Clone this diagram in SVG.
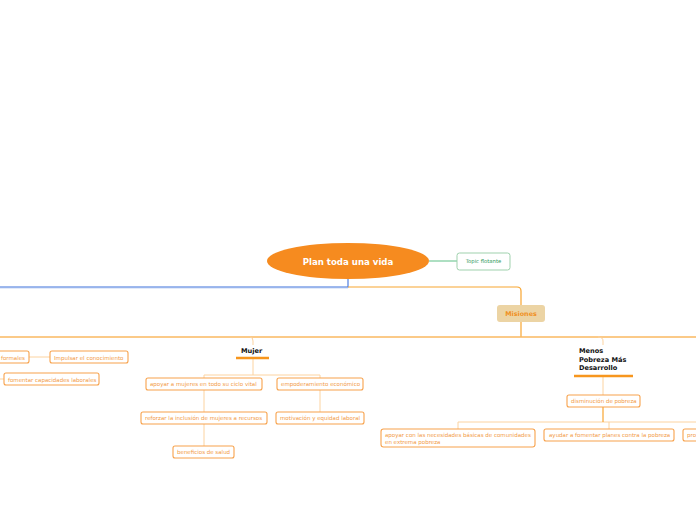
<svg xmlns="http://www.w3.org/2000/svg" width="696" height="520" viewBox="0 0 696 520">
<style>
.box{fill:#fff;stroke:#f7a24c;stroke-width:1.1}
.t{font-family:"DejaVu Sans",Verdana,sans-serif;font-size:5.5px;fill:#f29a45}
.lt{fill:none;stroke:#fcd3a0;stroke-width:1}
.mn{fill:none;stroke:#f8a530;stroke-width:1.2}
.hd{font-family:"DejaVu Sans",Verdana,sans-serif;font-size:6.6px;font-weight:bold;fill:#111}
</style>
<rect width="696" height="520" fill="#fff"/>
<g id="connectors">
<line x1="429" y1="261" x2="457" y2="261" stroke="#5cbf85" stroke-width="1"/>
<line x1="0" y1="288.2" x2="348" y2="288.2" stroke="#c4d4f5" stroke-width="0.7"/>
<path d="M348 279 V287 H0" fill="none" stroke="#3f72dc" stroke-width="1.1"/>
<path d="M348 287 H517 Q521 287 521 291 V305" class="mn"/>
<path d="M521 322 V337" class="mn"/>
<line x1="0" y1="337" x2="696" y2="337" stroke="#fab860" stroke-width="1.4"/>
<path d="M250 337 Q253 337 253 341 V345" class="lt"/>
<path d="M598 337 Q603 337 603 341 V345" class="lt"/>
<path d="M253 359 V375 M204 378 V375 H320 V378" class="lt"/>
<path d="M204 390 V412 M204 424 V446 M320 390 V412" class="lt"/>
<path d="M29 357 H50 M0 379 H4" class="lt"/>
<path d="M603 377 V395" class="lt"/>
<path d="M458 429 V422 H696 M609 422 V429" class="lt"/>
<path d="M603 407 V422" class="mn" stroke-width="1"/>
</g>
<g id="root">
<ellipse cx="348" cy="261" rx="81" ry="18" fill="#f68b1f"/>
<text x="348" y="264.5" text-anchor="middle" font-family="DejaVu Sans,Verdana,sans-serif" font-size="8.6" font-weight="bold" fill="#fff">Plan toda una vida</text>
</g>
<g id="topic-flotante">
<rect x="457" y="253" width="53" height="17" rx="2.5" fill="#fff" stroke="#9fd1ad" stroke-width="1"/>
<text x="483.5" y="263.3" text-anchor="middle" font-family="DejaVu Sans,Verdana,sans-serif" font-size="5.3" fill="#2f9a5e">Topic flotante</text>
</g>
<g id="misiones">
<rect x="497" y="305" width="48" height="17" rx="3" fill="#ecd4a4"/>
<text x="521" y="316" text-anchor="middle" font-family="DejaVu Sans,Verdana,sans-serif" font-size="6.4" font-weight="bold" fill="#f0901e">Misiones</text>
</g>
<g id="mujer">
<text x="241" y="353" class="hd">Mujer</text>
<line x1="236" y1="358" x2="269" y2="358" stroke="#f7961e" stroke-width="2.4"/>
</g>
<g id="apoyar-mujeres">
<rect x="146" y="378" width="116" height="12" rx="2" class="box"/>
<text x="150" y="386.2" class="t">apoyar a mujeres en todo su ciclo vital</text>
</g>
<g id="empoderamiento">
<rect x="277" y="378" width="86" height="12" rx="2" class="box"/>
<text x="281" y="386.2" class="t">empoderamiento económico</text>
</g>
<g id="reforzar">
<rect x="141" y="412" width="126" height="12" rx="2" class="box"/>
<text x="145" y="420.2" class="t">reforzar la inclusión de mujeres a recursos</text>
</g>
<g id="motivacion">
<rect x="276" y="412" width="88" height="12" rx="2" class="box"/>
<text x="280" y="420.2" class="t">motivación y equidad laboral</text>
</g>
<g id="beneficios">
<rect x="173" y="446" width="61" height="12" rx="2" class="box"/>
<text x="177" y="454.2" class="t">beneficios de salud</text>
</g>
<g id="formales">
<rect x="-40" y="351" width="69" height="12" rx="2" class="box"/>
<text x="25" y="359.5" text-anchor="end" class="t">formales</text>
</g>
<g id="impulsar">
<rect x="50" y="351" width="78" height="12" rx="2" class="box"/>
<text x="54" y="359.5" class="t">Impulsar el conocimiento</text>
</g>
<g id="fomentar">
<rect x="4" y="373" width="95" height="12" rx="2" class="box"/>
<text x="8" y="381.5" class="t">fomentar capacidades laborales</text>
</g>
<g id="menos-pobreza">
<text class="hd"><tspan x="579" y="353">Menos</tspan><tspan x="579" y="361.5">Pobreza Más</tspan><tspan x="579" y="370">Desarrollo</tspan></text>
<line x1="574" y1="376" x2="633" y2="376" stroke="#f7961e" stroke-width="2.4"/>
</g>
<g id="disminucion">
<rect x="567" y="395" width="73" height="12" rx="2" class="box"/>
<text x="571" y="403.3" class="t">disminución de pobreza</text>
</g>
<g id="apoyar-necesidades">
<rect x="381" y="429" width="154" height="18" rx="2.5" class="box"/>
<text class="t"><tspan x="385" y="436.5">apoyar con las necesidades básicas de comunidades</tspan><tspan x="385" y="443.5">en extrema pobreza</tspan></text>
</g>
<g id="ayudar">
<rect x="544" y="429" width="130" height="12" rx="2" class="box"/>
<text x="549" y="437.3" class="t">ayudar a fomentar planes contra la pobreza</text>
</g>
<g id="pro">
<rect x="683" y="429" width="30" height="12" rx="2" class="box"/>
<text x="687" y="437.3" class="t">pro</text>
</g>
</svg>
